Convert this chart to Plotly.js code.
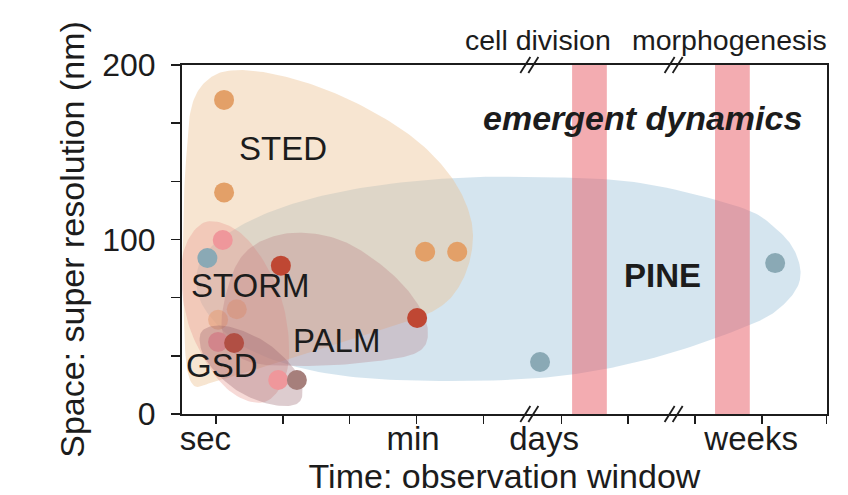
<!DOCTYPE html>
<html><head><meta charset="utf-8">
<script src="https://cdn.plot.ly/plotly-3.0.1.min.js"></script>
<style>html,body{margin:0;padding:0;background:#fff}#chart{width:848px;height:495px}</style>
</head><body><div id="chart"></div>
<script>
// ---------- axis data ----------
const xTickPositions = [1, 2, 3, 4, 5, 6.17, 7.17, 8.17, 9.17, 10.14];
const xLabelPositions = [0.84, 3.95, 5.91, 9.01];
const xLabels = ['sec', 'min', 'days', 'weeks'];
const yTickValues = [0, 33.333, 66.667, 100, 133.333, 166.667, 200];
const yTickLabels = ['0', '', '', '100', '', '', '200'];
const axisBreaks = [5.69, 7.85];
const bandStart = [6.33, 8.47];
const bandEnd = [6.85, 8.99];
const eventLabels = ['cell division', 'morphogenesis'];
const eventLabelX = [5.82, 8.69];

// ---------- technique points ----------
const stedX = [1.12, 1.12, 4.13, 4.61];
const stedY = [180, 127, 93, 93];
const stedLowX = [1.31, 1.03];      // STED points seen through the STORM region
const stedLowY = [60, 54];
const stormX = [1.10, 1.93];
const stormY = [99.7, 19.5];
const palmX = [1.97, 4.01];
const palmY = [85, 55];
const gsdX = [2.21];
const gsdY = [19.5];
const pineX = [0.87, 5.85, 9.37];
const pineY = [89.4, 29.8, 86.5];
// points lying inside the GSD region (drawn beneath it)
const gsdStormX = [1.03];
const gsdStormY = [41.3];
const gsdPalmX = [1.27];
const gsdPalmY = [40.7];

// ---------- region outlines (control points) ----------
const pineBlobX = [9.74, 9.67, 9.37, 8.84, 7.35, 5.85, 4.55, 3.16, 1.96, 1.10, 0.72, 0.84, 1.51, 2.71, 4.35, 6.15, 7.65, 8.99, 9.49];
const pineBlobY = [76.8, 92.8, 106.6, 118.6, 132.4, 135.8, 135.2, 129.5, 118.1, 101.4, 82.5, 59.6, 36.7, 22.9, 18.9, 21.8, 33.2, 51.0, 62.5];
const stedBlobX = [0.55, 0.64, 0.91, 1.36, 2.11, 3.01, 3.90, 4.50, 4.80, 4.83, 4.65, 4.28, 3.46, 2.26, 1.06, 0.61, 0.51, 0.51];
const stedBlobY = [145.6, 177.1, 192.6, 197.1, 192.6, 179.9, 159.9, 137.0, 114.0, 94.0, 73.9, 59.6, 48.1, 33.8, 19.5, 19.5, 65.3, 111.2];
const stormBlobX = [1.73, 2.08, 1.97, 1.45, 0.84, 0.49, 0.60, 1.12];
const stormBlobY = [6.9, 28.1, 67.0, 100.9, 110.0, 88.8, 49.9, 16.0];
const palmBlobX = [1.21, 1.51, 2.11, 2.86, 3.53, 3.98, 4.17, 4.02, 3.31, 2.26, 1.43, 1.09];
const palmBlobY = [76.8, 95.1, 103.7, 99.7, 83.7, 65.3, 48.1, 35.5, 29.8, 27.5, 30.9, 48.1];
const gsdBlobX = [2.26, 2.22, 1.76, 1.15, 0.78, 0.84, 1.30, 1.88];
const gsdBlobY = [7.4, 22.9, 40.7, 50.4, 47.0, 31.5, 13.8, 5.0];

// ---------- text labels ----------
const regionNames = ['STED', 'STORM', 'PALM', 'GSD'];
const regionNameX = [2.0, 1.52, 2.81, 1.09];
const regionNameY = [152.4, 73.9, 42.1, 27.8];

// ---------- helpers ----------
function closedSpline(px, py, steps) {
  const n = px.length, X = [], Y = [];
  const f = (a, b, c, d, t) => {
    const t2 = t * t, t3 = t2 * t;
    return 0.5 * (2 * b + (-a + c) * t + (2 * a - 5 * b + 4 * c - d) * t2 + (-a + 3 * b - 3 * c + d) * t3);
  };
  for (let i = 0; i < n; i++) {
    const i0 = (i - 1 + n) % n, i2 = (i + 1) % n, i3 = (i + 2) % n;
    for (let s = 0; s < steps; s++) {
      const t = s / steps;
      X.push(f(px[i0], px[i], px[i2], px[i3], t));
      Y.push(f(py[i0], py[i], py[i2], py[i3], t));
    }
  }
  X.push(X[0]); Y.push(Y[0]);
  return [X, Y];
}
function blob(xs, ys, color) {
  const [X, Y] = closedSpline(xs, ys, 16);
  return {type: 'scatter', x: X, y: Y, mode: 'lines', fill: 'toself', fillcolor: color,
          line: {width: 0, color: 'rgba(0,0,0,0)'}, hoverinfo: 'skip', showlegend: false};
}
function dots(xs, ys, color, op) {
  return {type: 'scatter', x: xs, y: ys, mode: 'markers', hoverinfo: 'skip', showlegend: false,
          marker: {size: 20, color: color, opacity: op || 1, line: {width: 0}}};
}

const C_STED = '#e3a068', C_STORM = '#ef979b', C_PALM = '#bf4733', C_GSD = '#a67f7b', C_PINE = '#8aa9b5';

const traces = [
  blob(pineBlobX, pineBlobY, 'rgba(150,190,215,0.40)'),
  blob(stedBlobX, stedBlobY, 'rgba(236,192,145,0.42)'),
  dots(stedX, stedY, C_STED),
  dots(stedLowX, stedLowY, C_STED, 0.55),
  blob(stormBlobX, stormBlobY, 'rgba(232,150,140,0.35)'),
  blob(palmBlobX, palmBlobY, 'rgba(180,110,120,0.28)'),
  dots(gsdStormX, gsdStormY, C_STORM),
  dots(gsdPalmX, gsdPalmY, C_PALM),
  blob(gsdBlobX, gsdBlobY, 'rgba(150,95,105,0.32)'),
  dots(stormX, stormY, C_STORM),
  dots(palmX, palmY, C_PALM),
  dots(gsdX, gsdY, C_GSD),
  dots(pineX, pineY, C_PINE),
  {type: 'scatter', x: [1], y: [-50], xaxis: 'x2', mode: 'markers', marker: {opacity: 0}, hoverinfo: 'skip', showlegend: false}
];

const FONT = 'Liberation Sans, Arial, sans-serif';
const INK = '#1c1c1c';

const shapes = [];
for (let i = 0; i < bandStart.length; i++) {
  shapes.push({type: 'rect', xref: 'x', yref: 'paper', x0: bandStart[i], x1: bandEnd[i], y0: 0, y1: 1,
               fillcolor: 'rgba(232,90,100,0.5)', line: {width: 0}, layer: 'above'});
}
axisBreaks.forEach(b => {
  [0, 1].forEach(yy => {
    [-0.06, 0.06].forEach(o => {
      shapes.push({type: 'line', xref: 'x', yref: 'paper', x0: b + o - 0.075, x1: b + o + 0.075,
                   y0: yy - 0.023, y1: yy + 0.023, line: {color: INK, width: 1.8}, layer: 'above'});
    });
  });
});

const annotations = [];
regionNames.forEach((t, i) => annotations.push({text: t, x: regionNameX[i], y: regionNameY[i], xref: 'x', yref: 'y',
  showarrow: false, xanchor: 'center', yanchor: 'middle', font: {family: FONT, size: 33, color: INK}}));
annotations.push({text: '<b>PINE</b>', x: 7.69, y: 79.4, xref: 'x', yref: 'y', showarrow: false,
  xanchor: 'center', yanchor: 'middle', font: {family: FONT, size: 33, color: INK}});
annotations.push({text: '<b><i>emergent dynamics</i></b>', x: 7.38, y: 169.6, xref: 'x', yref: 'y', showarrow: false,
  xanchor: 'center', yanchor: 'middle', font: {family: FONT, size: 34, color: INK}});
eventLabels.forEach((t, i) => annotations.push({text: t, x: eventLabelX[i], y: 1.072, xref: 'x', yref: 'paper',
  showarrow: false, xanchor: 'center', yanchor: 'middle', font: {family: FONT, size: 28.5, color: INK}}));

const layout = {
  width: 848, height: 495,
  margin: {l: 182, r: 21, t: 65, b: 81},
  paper_bgcolor: '#fff', plot_bgcolor: '#fff',
  showlegend: false,
  xaxis: {range: [0.49, 10.146], tickvals: xTickPositions, ticks: 'outside', ticklen: 8, tickwidth: 1.5,
          tickcolor: INK, showticklabels: false, showline: true, linewidth: 2, linecolor: INK, mirror: true,
          showgrid: false, zeroline: false, fixedrange: true},
  xaxis2: {overlaying: 'x', anchor: 'y', side: 'bottom', range: [0.49, 10.146], tickvals: xLabelPositions,
           ticktext: xLabels, ticks: '', showline: false, showgrid: false, zeroline: false,
           tickfont: {family: FONT, size: 33, color: INK}, ticklabelstandoff: 2,
           title: {text: 'Time: observation window', font: {family: FONT, size: 34, color: INK}, standoff: 3}},
  yaxis: {range: [0, 200], tickvals: yTickValues, ticktext: yTickLabels, ticks: 'outside', ticklen: 9,
          tickwidth: 1.5, tickcolor: INK, showline: true, linewidth: 2, linecolor: INK, mirror: true,
          showgrid: false, zeroline: false, fixedrange: true, ticklabelstandoff: 9,
          tickfont: {family: FONT, size: 32, color: INK},
          title: {text: 'Space: super resolution (nm)', font: {family: FONT, size: 34, color: INK}, standoff: 7}},
  shapes: shapes,
  annotations: annotations
};

Plotly.newPlot('chart', traces, layout, {staticPlot: true, displayModeBar: false});
</script></body></html>
